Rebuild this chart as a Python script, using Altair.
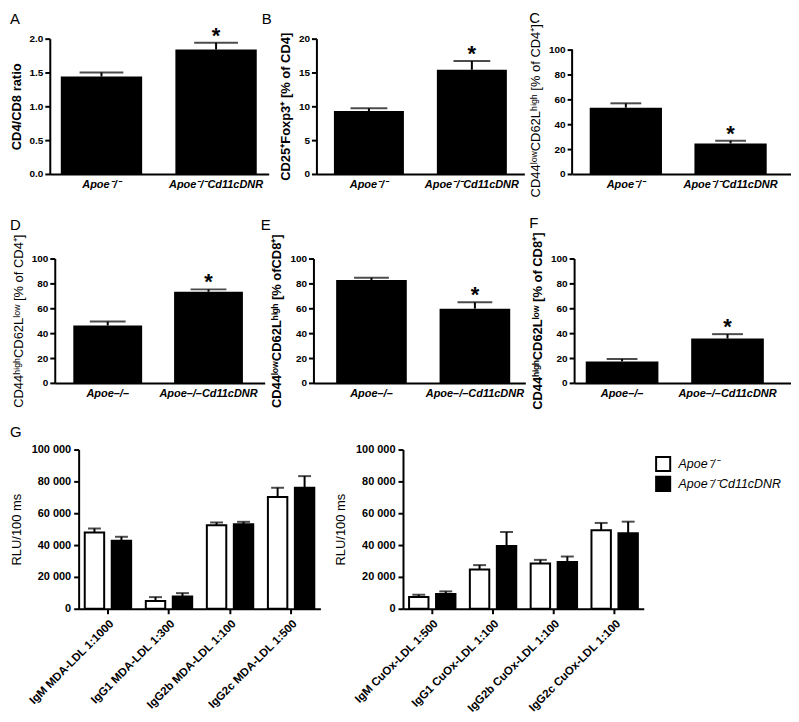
import altair as alt
import pandas as pd

FONT = "Liberation Sans"

# ---------------- data: panels A-F ----------------
geno_sup = ["Apoe⁻/⁻", "Apoe⁻/⁻Cd11cDNR"]
geno_dash = ["Apoe–/–", "Apoe–/–Cd11cDNR"]
stars = ["", "*"]

a_mean = [1.44, 1.84]
a_sem = [0.06, 0.10]
b_mean = [9.3, 15.4]
b_sem = [0.4, 1.3]
c_mean = [53.3, 24.5]
c_sem = [3.5, 2.2]
d_mean = [46.1, 73.3]
d_sem = [3.2, 1.9]
e_mean = [82.7, 59.7]
e_sem = [1.8, 5.1]
f_mean = [17.3, 35.7]
f_sem = [1.9, 3.5]

a_ticks = [0, 0.5, 1.0, 1.5, 2.0]
b_ticks = [0, 5, 10, 15, 20]
pct_ticks = [0, 20, 40, 60, 80, 100]

# ---------------- data: panel G ----------------
mda_cats = ["IgM MDA-LDL 1:1000", "IgG1 MDA-LDL 1:300", "IgG2b MDA-LDL 1:100", "IgG2c MDA-LDL 1:500"]
mda_apoe = [47900, 4800, 52500, 70200]
mda_apoe_sem = [2500, 2500, 1700, 5800]
mda_dnr = [42700, 7700, 53100, 76000]
mda_dnr_sem = [2500, 2100, 1500, 7300]

cuox_cats = ["IgM CuOx-LDL 1:500", "IgG1 CuOx-LDL 1:100", "IgG2b CuOx-LDL 1:100", "IgG2c CuOx-LDL 1:100"]
cuox_apoe = [7400, 24600, 28400, 49300]
cuox_apoe_sem = [1400, 2800, 2300, 4600]
cuox_dnr = [9300, 39400, 29300, 47400]
cuox_dnr_sem = [1600, 8800, 3500, 7300]

rlu_ticks = [0, 20000, 40000, 60000, 80000, 100000]
legend_labels = ["Apoe⁻/⁻", "Apoe⁻/⁻Cd11cDNR"]


def letter_title(letter, dx, offset):
    return alt.TitleParams(letter, anchor="start", frame="group", dx=dx, offset=offset,
                           font=FONT, fontSize=15, fontWeight="normal", color="black")


def spacer(w):
    return alt.Chart(pd.DataFrame({"v": [0]})).mark_point(size=1, opacity=0, strokeWidth=0).encode(
        x=alt.value(0), y=alt.value(0)).properties(width=w, height=1)


def small_panel(letter, cats, means, sems, ymax, ticks, fmt, ytitle, width, height,
                cap, dx, offset, band, domain_top=None, title_weight="bold", title_y=None):
    df = pd.DataFrame({"g": cats, "mean": means,
                       "upper": [m + s for m, s in zip(means, sems)], "star": stars})
    top = domain_top if domain_top else ymax
    pi, po, al = band
    x = alt.X("g:N", sort=cats, title=None,
              scale=alt.Scale(paddingInner=pi, paddingOuter=po, align=al),
              axis=alt.Axis(labelAngle=0, labelFont=FONT, labelFontSize=11,
                            labelFontStyle="italic", labelFontWeight="bold",
                            labelColor="black", ticks=False, domainColor="black",
                            domainWidth=2, labelPadding=5))
    axis_kw = dict(values=ticks, format=fmt, grid=False, domain=domain_top is None,
                   labelOverlap=False, domainColor="black", domainWidth=2,
                   tickColor="black", tickWidth=2, tickSize=5, labelFont=FONT,
                   labelFontSize=10, labelFontWeight="bold", labelColor="black",
                   labelPadding=2, titleFont=FONT, titleFontSize=13,
                   titleFontWeight=title_weight, titleColor="black", titlePadding=6)
    if title_y is not None:
        axis_kw["titleY"] = title_y
    yaxis = alt.Axis(**axis_kw)
    yscale = alt.Scale(domain=[0, top], nice=False, zero=True)
    base = alt.Chart(df).encode(x=x)
    bars = base.mark_bar(color="black").encode(
        y=alt.Y("mean:Q", title=ytitle, scale=yscale, axis=yaxis))
    err = base.mark_rule(color="black", strokeWidth=2).encode(
        y=alt.Y("mean:Q", title=ytitle, axis=yaxis), y2="upper:Q")
    caps = base.mark_tick(color="black", thickness=2, size=cap).encode(
        y=alt.Y("upper:Q", title=ytitle, axis=yaxis))
    star = base.mark_text(font=FONT, fontSize=22, fontWeight="bold", baseline="alphabetic",
                          color="black").encode(
        y=alt.Y("upper:Q", title=ytitle, axis=yaxis), text="star:N")
    layers = [bars, err, caps, star]
    if domain_top:
        line = alt.Chart(pd.DataFrame({"lo": [0], "hi": [ymax]})).mark_rule(
            color="black", strokeWidth=2).encode(
            x=alt.value(0), y=alt.Y("lo:Q", title=ytitle, axis=yaxis), y2="hi:Q")
        layers.append(line)
    return alt.layer(*layers).properties(width=width, height=height,
                                         title=letter_title(letter, dx, offset))


def g_panel(cats, apoe, apoe_sem, dnr, dnr_sem, width, letter=None, dx=0, offset=0,
            legend=False):
    rows = []
    for i, c in enumerate(cats):
        rows.append({"cat": c, "geno": legend_labels[0], "fillc": "white",
                     "mean": apoe[i], "upper": apoe[i] + apoe_sem[i]})
        rows.append({"cat": c, "geno": legend_labels[1], "fillc": "black",
                     "mean": dnr[i], "upper": dnr[i] + dnr_sem[i]})
    df = pd.DataFrame(rows)
    ytitle = "RLU/100 ms"
    x = alt.X("cat:N", sort=cats, title=None,
              scale=alt.Scale(paddingInner=0.24, paddingOuter=0.1),
              axis=alt.Axis(labelAngle=-45, labelFont=FONT, labelFontSize=11.5,
                            labelFontWeight="bold", labelColor="black", ticks=True,
                            tickSize=5, tickWidth=2, tickColor="black",
                            domainColor="black", domainWidth=2, labelPadding=4))
    xo = alt.XOffset("geno:N", sort=legend_labels, scale=alt.Scale(paddingInner=0.28))
    yaxis = alt.Axis(values=rlu_ticks, labelExpr="replace(format(datum.value, ','), ',', ' ')",
                     grid=False, labelOverlap=False, domainColor="black", domainWidth=2,
                     tickColor="black", tickWidth=2, tickSize=5, labelFont=FONT,
                     labelFontSize=11, labelFontWeight="bold", labelColor="black",
                     labelPadding=3, titleFont=FONT, titleFontSize=13,
                     titleFontWeight="normal", titleColor="black", titlePadding=8)
    if legend:
        fill = alt.Fill("geno:N", sort=legend_labels,
                        scale=alt.Scale(domain=legend_labels, range=["white", "black"]),
                        legend=alt.Legend(title=None, orient="none", legendX=253, legendY=6,
                                          symbolType="square", symbolSize=200,
                                          symbolStrokeColor="black", symbolStrokeWidth=2,
                                          labelFont=FONT, labelFontSize=12.5,
                                          labelFontStyle="italic", labelColor="black",
                                          rowPadding=-3, labelOffset=7))
    else:
        fill = alt.Fill("fillc:N", scale=None)
    yscale = alt.Scale(domain=[0, 100000], nice=False)
    base = alt.Chart(df).encode(x=x, xOffset=xo)
    bars = base.mark_bar(stroke="black", strokeWidth=2).encode(
        y=alt.Y("mean:Q", title=ytitle, scale=yscale, axis=yaxis), fill=fill)
    err = base.mark_rule(color="black", strokeWidth=2).encode(
        y=alt.Y("mean:Q", title=ytitle, axis=yaxis), y2="upper:Q")
    caps = base.mark_tick(color="black", thickness=2, size=13).encode(
        y=alt.Y("upper:Q", title=ytitle, axis=yaxis))
    ch = alt.layer(bars, err, caps).properties(width=width, height=160)
    if letter:
        ch = ch.properties(title=letter_title(letter, dx, offset))
    return ch


pA = small_panel("A", geno_sup, a_mean, a_sem, 2.0, a_ticks, ".1f", "CD4/CD8 ratio",
                 220, 136, 44, -40, -2.5, (0.29, 0.10, 0.48))
pB = small_panel("B", geno_sup, b_mean, b_sem, 20, b_ticks, "d",
                 "CD25⁺Foxp3⁺ [% of CD4]", 209, 136, 37, -55, 5, (0.32, 0.17, 0.5))
pC = small_panel("C", geno_sup, c_mean, c_sem, 100, pct_ticks, "d",
                 "CD44ˡᵒʷCD62Lʰⁱᵍʰ [% of CD4⁺]", 220, 136, 31, -43, -2,
                 (0.31, 0.2, 0.42), domain_top=108.8, title_weight="normal", title_y=72)
pD = small_panel("D", geno_dash, d_mean, d_sem, 100, pct_ticks, "d",
                 "CD44ʰⁱᵍʰCD62Lˡᵒʷ [% of CD4⁺]", 211, 125, 36, -45, 1,
                 (0.317, 0.2, 0.46), title_weight="normal")
pE = small_panel("E", geno_dash, e_mean, e_sem, 100, pct_ticks, "d",
                 "CD44ˡᵒʷCD62Lʰⁱᵍʰ [% ofCD8⁺]", 213, 125, 35, -53, 1,
                 (0.317, 0.183, 0.6))
pF = small_panel("F", geno_dash, f_mean, f_sem, 100, pct_ticks, "d",
                 "CD44ʰⁱᵍʰCD62Lˡᵒʷ [% of CD8⁺]", 218, 125, 31, -45, 1,
                 (0.311, 0.184, 0.3))

pG1 = g_panel(mda_cats, mda_apoe, mda_apoe_sem, mda_dnr, mda_dnr_sem, 243,
              letter="G", dx=-69, offset=4)
pG2 = g_panel(cuox_cats, cuox_apoe, cuox_apoe_sem, cuox_dnr, cuox_dnr_sem, 242,
              legend=True)

row1 = alt.hconcat(spacer(7), pA, pB, pC, spacing=48, bounds="flush")
row2 = alt.hconcat(spacer(11), pD, pE, pF, spacing=49, bounds="flush")
row3 = alt.hconcat(spacer(1), pG1, pG2, spacing=83, bounds="flush").resolve_scale(
    fill="independent")

top_rows = alt.vconcat(row1, row2, spacing=18)
chart = alt.vconcat(top_rows, row3, spacing=15).resolve_scale(
    fill="independent").properties(
    padding={"left": -14, "top": 0, "right": 0, "bottom": 0}
).configure_view(stroke=None)

chart.save("out.html", embed_options={"renderer": "svg", "actions": False})
